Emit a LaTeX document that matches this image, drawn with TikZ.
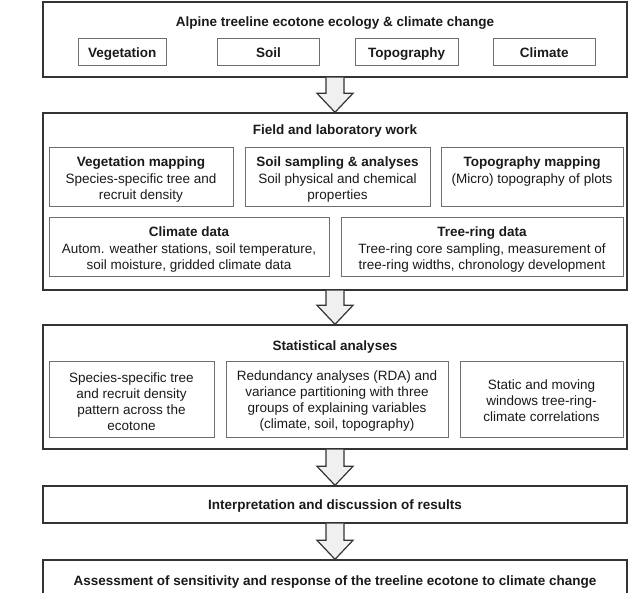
\documentclass[tikz,border=0pt]{standalone}
\usepackage{fontspec}
\setmainfont{Liberation Sans}
\usetikzlibrary{calc}
\definecolor{outerc}{HTML}{333333}
\definecolor{innerc}{HTML}{6E6E6E}
\definecolor{arrfill}{HTML}{F0F0F0}
\definecolor{txtc}{HTML}{1A1A1A}
\newcommand\fatarrow[2]{%
  \filldraw[fatarr] ($(#1.south)+(-9,0)$) -- ($(#2.north)+(-9,-19)$) -- ($(#2.north)+(-18,-19)$)
    -- (#2.north) -- ($(#2.north)+(18,-19)$) -- ($(#2.north)+(9,-19)$) -- ($(#1.south)+(9,0)$);}
\begin{document}
\begin{tikzpicture}[x=1pt,y=-1pt,
  outerbox/.style={draw=outerc,line width=1.4pt,inner sep=0pt},
  innerbox/.style={draw=innerc,line width=1pt,inner sep=0pt},
  ttl/.style={font=\fontsize{13.5}{16}\selectfont\bfseries,text=txtc,inner sep=0pt,align=center},
  body/.style={font=\fontsize{13.5}{16}\selectfont,text=txtc,inner sep=0pt,align=center},
  oneline/.style={text height=9.7pt,text depth=0pt},
  fatarr/.style={draw=outerc,fill=arrfill,line width=1.2pt,line join=miter}]
\useasboundingbox (0,0) rectangle (634,593);
\fill[white] (0,0) rectangle (634,593);
\clip (0,0) rectangle (634,593);

% Box 1
\node[outerbox,minimum width=584,minimum height=75] (b1) at (335,39.5) {};
\node[ttl,oneline] (t1) at (335,21.5) {Alpine treeline ecotone ecology \& climate change};
\node[innerbox,minimum width=87.5,minimum height=27] (veg) at (122.25,52.5) {};
\node[ttl,oneline] (vegt) at (veg.center) {Vegetation};
\node[innerbox,minimum width=102,minimum height=27] (soil) at (268.5,52.5) {};
\node[ttl,oneline] (soilt) at (soil.center) {Soil};
\node[innerbox,minimum width=103,minimum height=27] (topo) at (406.5,52.5) {};
\node[ttl,oneline] (topot) at (topo.center) {Topography};
\node[innerbox,minimum width=102.5,minimum height=27] (clim) at (544.25,52.5) {};
\node[ttl,oneline] (climt) at (clim.center) {Climate};

% Box 2
\node[outerbox,minimum width=584,minimum height=177] (b2) at (335,201.5) {};
\node[ttl,oneline] (t2) at (335,130) {Field and laboratory work};
\node[innerbox,minimum width=184,minimum height=59] (vm) at (141,177.5) {};
\node[ttl,oneline] (vmt) at (141,162) {Vegetation mapping};
\node[body,anchor=north] (vmb) at (141,174) {Species-specific tree and\\recruit density};
\node[innerbox,minimum width=185,minimum height=59] (ss) at (337.5,177.5) {};
\node[ttl,oneline] (sst) at (337.5,162) {Soil sampling \& analyses};
\node[body,anchor=north] (ssb) at (337.5,174) {Soil physical and chemical\\properties};
\node[innerbox,minimum width=182,minimum height=59] (tm) at (532,177.5) {};
\node[ttl,oneline] (tmt) at (532,162) {Topography mapping};
\node[body,anchor=north] (tmb) at (532,174) {(Micro) topography of plots};
\node[innerbox,minimum width=280,minimum height=59] (cd) at (189,247.5) {};
\node[ttl,oneline] (cdt) at (189,232) {Climate data};
\node[body,anchor=north] (cdb) at (189,243.5) {Autom. weather stations, soil temperature,\\soil moisture, gridded climate data};
\node[innerbox,minimum width=282,minimum height=59] (tr) at (482,247.5) {};
\node[ttl,oneline] (trt) at (482,232) {Tree-ring data};
\node[body,anchor=north] (trb) at (482,243.5) {Tree-ring core sampling, measurement of\\tree-ring widths, chronology development};

% Box 3
\node[outerbox,minimum width=584,minimum height=124] (b3) at (335,387) {};
\node[ttl,oneline] (t3) at (335,346) {Statistical analyses};
\node[innerbox,minimum width=165,minimum height=76] (sa) at (131.5,399) {};
\node[body] (sab) at (131.5,401.5) {Species-specific tree\\and recruit density\\pattern across the\\ecotone};
\node[innerbox,minimum width=222,minimum height=76] (sb) at (337,399) {};
\node[body] (sbb) at (337,401.5) {Redundancy analyses (RDA) and\\variance partitioning with three\\groups of explaining variables\\(climate, soil, topography)};
\node[innerbox,minimum width=163,minimum height=76] (sc) at (541.5,399) {};
\node[body] (scb) at (541.5,401) {Static and moving\\windows tree-ring-\\climate correlations};

% Box 4
\node[outerbox,minimum width=584,minimum height=37] (b4) at (335,504.5) {};
\node[ttl,oneline] (t4) at (335,505) {Interpretation and discussion of results};

% Box 5
\node[outerbox,minimum width=584,minimum height=50] (b5) at (335,585) {};
\node[ttl,oneline] (t5) at (335,581) {Assessment of sensitivity and response of the treeline ecotone to climate change};

% Block arrows
\fatarrow{b1}{b2}
\fatarrow{b2}{b3}
\fatarrow{b3}{b4}
\fatarrow{b4}{b5}
\end{tikzpicture}
\end{document}
